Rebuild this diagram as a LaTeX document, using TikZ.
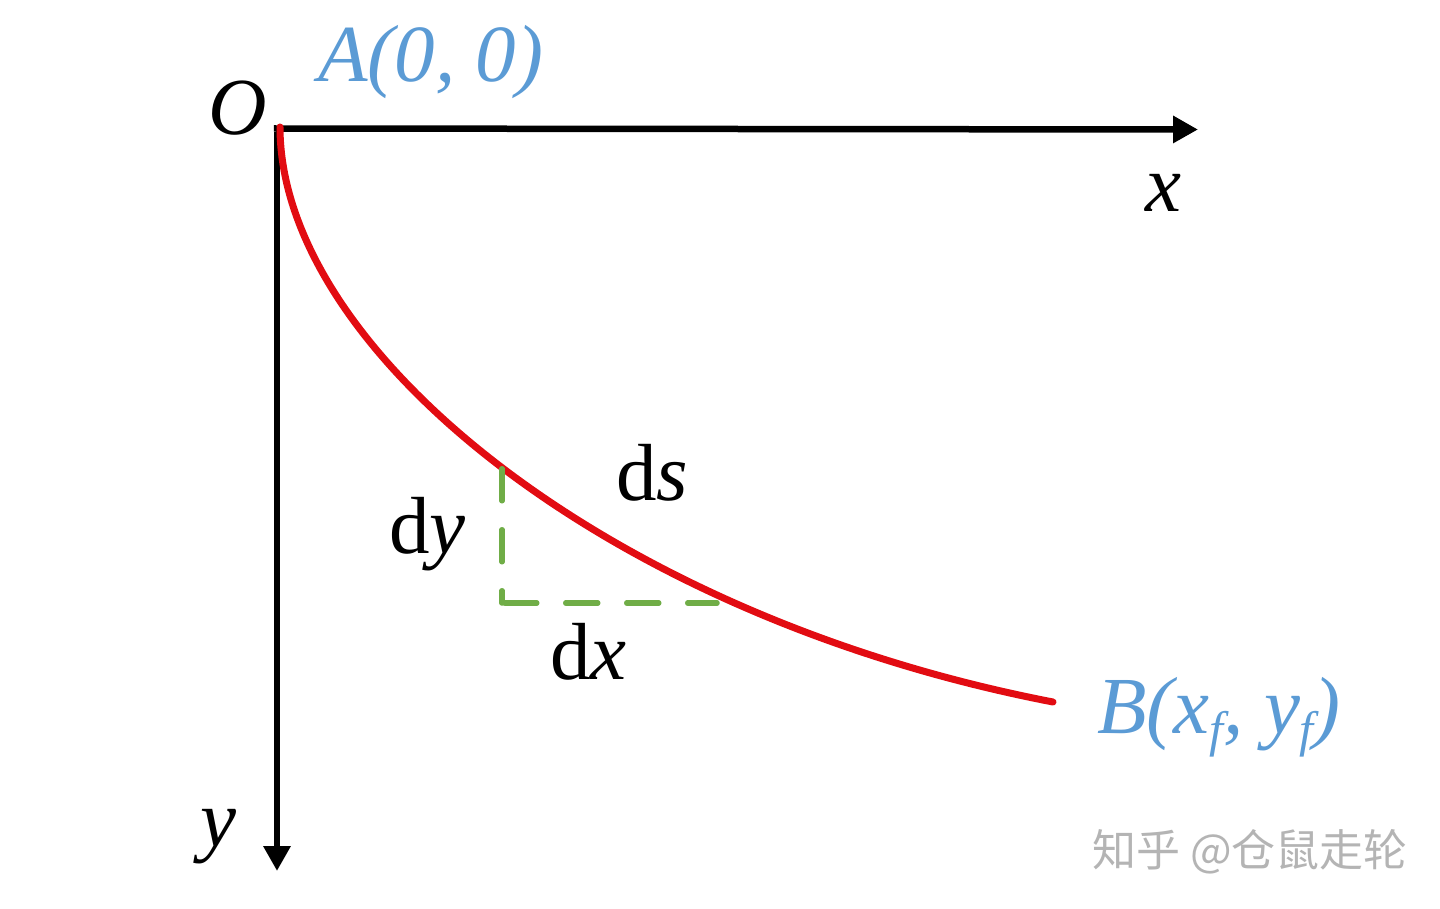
\documentclass[tikz,border=0pt]{standalone}
\usepackage{fontspec}
\setmainfont{Liberation Serif}
\newfontfamily\cjkfont{Noto Sans CJK SC}
\usetikzlibrary{arrows.meta}
\definecolor{curvered}{RGB}{226,12,18}
\definecolor{labelblue}{RGB}{91,155,213}
\definecolor{dashgreen}{RGB}{112,173,71}
\definecolor{wmgray}{RGB}{180,180,180}
\newcommand\subff{\raisebox{-13pt}{\fontsize{50}{50}\selectfont f}}
\tikzset{
  axisline/.style={line width=6.5pt, -{Triangle[length=25pt,width=26pt]}},
  curveline/.style={line width=7pt, curvered, line cap=round},
  dashline/.style={line width=5.5pt, dashgreen, line cap=round, dash pattern=on 32pt off 29pt, dash phase=-2.75pt},
  lbl/.style={inner sep=0pt, anchor=base west, font=\fontsize{81}{90}\selectfont},
}
\begin{document}
\begin{tikzpicture}[x=1pt,y=-1pt]
\useasboundingbox (0,0) rectangle (1440,909);
% axes
\coordinate (O) at (277,128.5);
\coordinate (xend) at (1198,129.5);
\coordinate (yend) at (277,871);
\draw[axisline] ([xshift=-3.25pt]O) -- (xend);
\draw[axisline] ([yshift=-3.25pt]O) -- (yend);
% curve
\coordinate (A) at (280,127);
\coordinate (B) at (1053,702);
\draw[curveline] (A) .. controls (280,347) and (603,615) .. (B);
% dashed triangle
\coordinate (P) at (502,466);
\coordinate (Q) at (502,603);
\coordinate (R) at (717,603);
\draw[dashline] (P) -- (Q);
\draw[dashline] (Q) -- (R);
% labels
\node[lbl] (lO) at (208,135) {\itshape O};
\node[lbl, text=labelblue] (lA) at (318,82) {\itshape A(0, 0)};
\node[lbl] (lx) at (1145,212) {\itshape x};
\node[lbl] (ly) at (200,846) {\itshape y};
\node[lbl] (ldy) at (389,553) {d\textit{y}};
\node[lbl] (lds) at (616,500) {d\textit{s}};
\node[lbl] (ldx) at (550,679) {d\textit{x}};
\node[lbl, text=labelblue] (lB) at (1097,733) {\itshape B(x\subff, y\subff)};
\node[inner sep=0pt, anchor=base west, text=wmgray, font=\cjkfont\fontsize{44}{48}\selectfont] (wm) at (1092,866) {知乎 @仓鼠走轮};
\end{tikzpicture}
\end{document}
